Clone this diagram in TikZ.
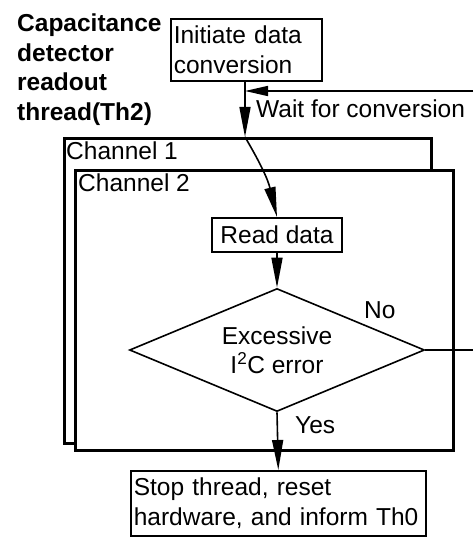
\documentclass[tikz,border=0pt]{standalone}
\usepackage{fontspec}
\setmainfont{Liberation Sans}
\usetikzlibrary{arrows.meta,shapes.geometric}
\tikzset{
  txt/.style={font=\fontsize{24.5}{29.5}\selectfont, inner sep=0pt},
  titletext/.style={txt, font=\fontsize{24.5}{29.5}\selectfont\bfseries, align=left},
  stepbox/.style={draw, line width=1.6pt, inner xsep=3pt, inner ysep=0pt,
    align=left, font=\fontsize{24.5}{29.5}\selectfont},
  chanbox/.style={draw, line width=3pt, fill=white, inner sep=0pt, anchor=north west},
  decision/.style={diamond, draw, line width=1.6pt, inner sep=0pt, align=center,
    font=\fontsize{24.5}{29.5}\selectfont},
  flow/.style={line width=1.6pt, -{Triangle[length=30pt,width=11pt]}},
  flowshort/.style={line width=1.6pt, -{Triangle[length=23pt,width=10pt]}},
  plain/.style={line width=1.6pt},
}
\begin{document}
\begin{tikzpicture}[x=1pt,y=-1pt]
\useasboundingbox (0,0) rectangle (473,537);

% thread title
\node[titletext, anchor=north west] (title) at (17,14)
  {Capacitance\\detector\\readout\\thread(Th2)};

% start of conversion
\node[stepbox, anchor=north west, minimum width=151pt, minimum height=62pt,
  text width=145pt] (init) at (170,18) {Initiate data\\conversion};

% stacked channel frames
\node[chanbox, minimum width=367pt, minimum height=305pt] (ch1) at (63,137) {};
\node[txt, anchor=base west] (ch1lbl) at (66,160) {Channel 1};
\node[chanbox, minimum width=378pt, minimum height=280pt] (ch2) at (74,169) {};
\node[txt, anchor=base west] (ch2lbl) at (78,192) {Channel 2};

% steps inside the channel
\node[stepbox, anchor=north, minimum width=130pt, minimum height=34pt,
  align=center, inner xsep=0pt] (read) at (277,217) {Read data};
\node[decision, minimum width=295pt, minimum height=123pt, aspect=2.4] (err)
  at (277,350) {Excessive\\I\textsuperscript{2}C error};

% final action
\node[stepbox, anchor=north west, minimum width=295pt, minimum height=65pt,
  text width=289pt] (stop) at (130,470) {Stop thread, reset\\hardware, and inform Th0};

% labels on the connectors
\node[txt, anchor=base west] (waitlbl) at (256,118) {Wait for conversion};
\node[txt, anchor=base west] (nolbl) at (364,318) {No};
\node[txt, anchor=base west] (yeslbl) at (295,433) {Yes};

% helper points
\coordinate (join) at (245,91);
\coordinate (chtop) at (245,137);
\coordinate (loopin) at (473,91);
\coordinate (loopout) at (473,350);

% connectors
\draw[plain] (init.south -| join) -- (join);
\draw[flow] (join) -- (chtop);
\draw[flowshort] (loopin) -- (join);
\draw[flow] (chtop) .. controls (262,166) and (268,180) .. (read.north);
\draw[flow] (read.south) -- (err.north);
\draw[plain] (err.east) -- (loopout);
\draw[flow] (err.south) -- (stop.north);
\end{tikzpicture}
\end{document}
